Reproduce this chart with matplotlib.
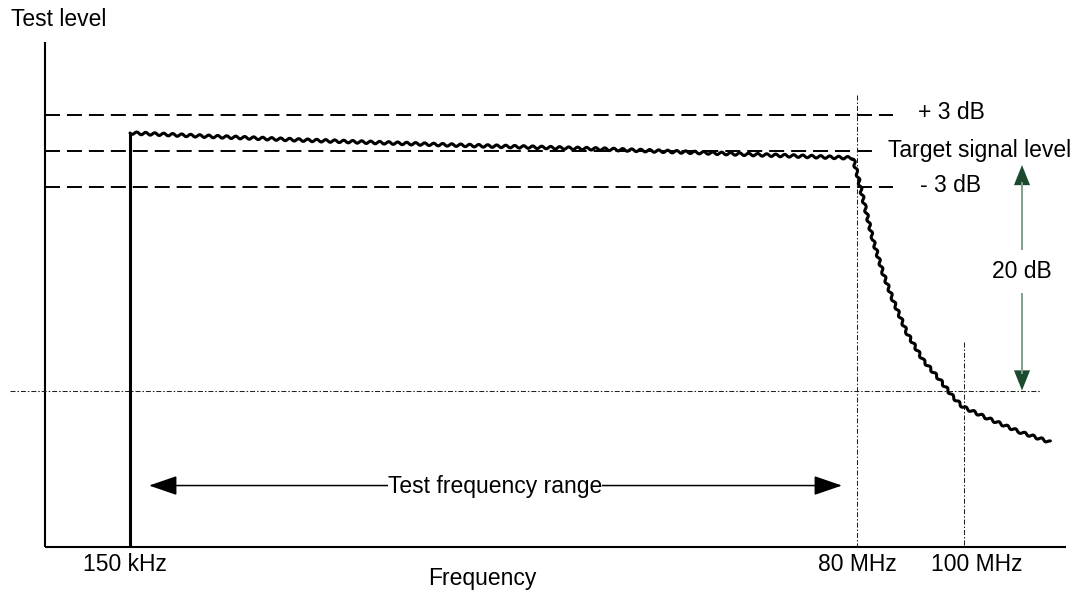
import matplotlib
matplotlib.use("Agg")
import matplotlib.pyplot as plt
from matplotlib.patches import FancyArrowPatch

plt.rcParams['font.family'] = ['Liberation Sans', 'DejaVu Sans']
plt.rcParams['lines.scale_dashes'] = False

# ---------------- data (x: schematic frequency position, y: level in dB re target) -------------
level_db = [3, 0, -3]
level_labels = ['+ 3 dB', 'Target signal level', '- 3 dB']
level_line_end = [893, 872, 893]
level_label_x = [918, 888, 920]
level_label_db = [2.6, -0.52, -3.43]

curve_pos = [130, 200, 300, 450, 600, 750, 853, 857, 865, 873, 883, 893,
             907, 923, 940, 953, 963, 987, 1020, 1050]
curve_db = [1.46, 1.21, 0.875, 0.46, 0.125, -0.33, -0.625, -1.875, -4.71, -7.46,
            -10.21, -12.46, -15.21, -17.46, -19.125, -20.54, -21.375, -22.29,
            -23.46, -24.29]

freq_tick_pos = [130, 857, 964]
freq_tick_labels = ['150 kHz', '80 MHz', '100 MHz']
freq_label_pos = [125, 857, 977]

cutoff_db = -20
span_label = '20 dB'

# ---------------- layout ----------------
FS = 16.5
floor_db = -33.0
top_db = 9.04
axis_x0 = 45
axis_x1 = 1066

fig = plt.figure(figsize=(10.77, 5.91), dpi=100)
ax = fig.add_axes([0, 0, 1, 1])
ax.set_xlim(0, 1077)
ax.set_ylim(-36.708, 12.542)
ax.axis('off')

# axes
ax.plot([axis_x0, axis_x0], [floor_db, top_db], color='black', lw=1.5, solid_capstyle='butt')
ax.plot([axis_x0, axis_x1], [floor_db, floor_db], color='black', lw=1.5, solid_capstyle='butt')

# level lines
for db, xe in zip(level_db, level_line_end):
    ax.plot([axis_x0, xe], [db, db], color='black', lw=1.4,
            linestyle=(0, (10.8, 5.0)))
for lab, x, y in zip(level_labels, level_label_x, level_label_db):
    ax.text(x, y, lab, fontsize=FS, ha='left', va='baseline')

# dash-dot reference lines
dd = (0, (3.6, 1.4, 1.1, 1.4))
ax.plot([freq_tick_pos[1], freq_tick_pos[1]], [4.625, floor_db], color='#222222', lw=0.75, linestyle=dd)
ax.plot([freq_tick_pos[2], freq_tick_pos[2]], [-15.96, floor_db], color='#222222', lw=0.75, linestyle=dd)
ax.plot([10, 1040], [cutoff_db, cutoff_db], color='#222222', lw=0.75, linestyle=dd)

# curve: vertical start + wavy response
ax.plot([curve_pos[0], curve_pos[0]], [floor_db, curve_db[0]], color='black', lw=2.2,
        solid_capstyle='butt')
line, = ax.plot(curve_pos, curve_db, color='black', lw=2.2,
                solid_capstyle='round', solid_joinstyle='round')
line.set_sketch_params(scale=1.3, length=9, randomness=1.0)

# tick labels
for x, lab in zip(freq_label_pos, freq_tick_labels):
    ax.text(x, -35.04, lab, fontsize=FS, ha='center', va='baseline')
ax.text(482, -36.2, 'Frequency', fontsize=FS, ha='center', va='baseline')
ax.text(11, 10.375, 'Test level', fontsize=FS, ha='left', va='baseline')

# test frequency range arrow
arr_y = -27.92
ax.add_patch(FancyArrowPatch((149, arr_y), (842, arr_y),
                             arrowstyle='<|-|>,head_length=17.5,head_width=6',
                             mutation_scale=1, color='black', lw=1.1,
                             shrinkA=0, shrinkB=0))
ax.text(495, -28.5, 'Test frequency range', fontsize=FS, ha='center', va='baseline',
        bbox=dict(facecolor='white', edgecolor='none', pad=0))

# 20 dB span arrow
ax_x = 1022
line_col = '#7f9f8c'
head_col = '#1b4a2e'
ax.plot([ax_x, ax_x], [-8.29, -2.6], color=line_col, lw=1.4, solid_capstyle='butt')
ax.plot([ax_x, ax_x], [-11.875, -18.6], color=line_col, lw=1.4, solid_capstyle='butt')
ax.add_patch(FancyArrowPatch((ax_x, -6.0), (ax_x, -1.21),
                             arrowstyle='-|>,head_length=14.5,head_width=5.8',
                             mutation_scale=1, color=head_col, lw=0, shrinkA=0, shrinkB=0))
ax.add_patch(FancyArrowPatch((ax_x, -15.0), (ax_x, cutoff_db),
                             arrowstyle='-|>,head_length=14.5,head_width=5.8',
                             mutation_scale=1, color=head_col, lw=0, shrinkA=0, shrinkB=0))
ax.text(ax_x, -10.65, span_label, fontsize=FS, ha='center', va='baseline')

fig.savefig('out.png', dpi=100)
